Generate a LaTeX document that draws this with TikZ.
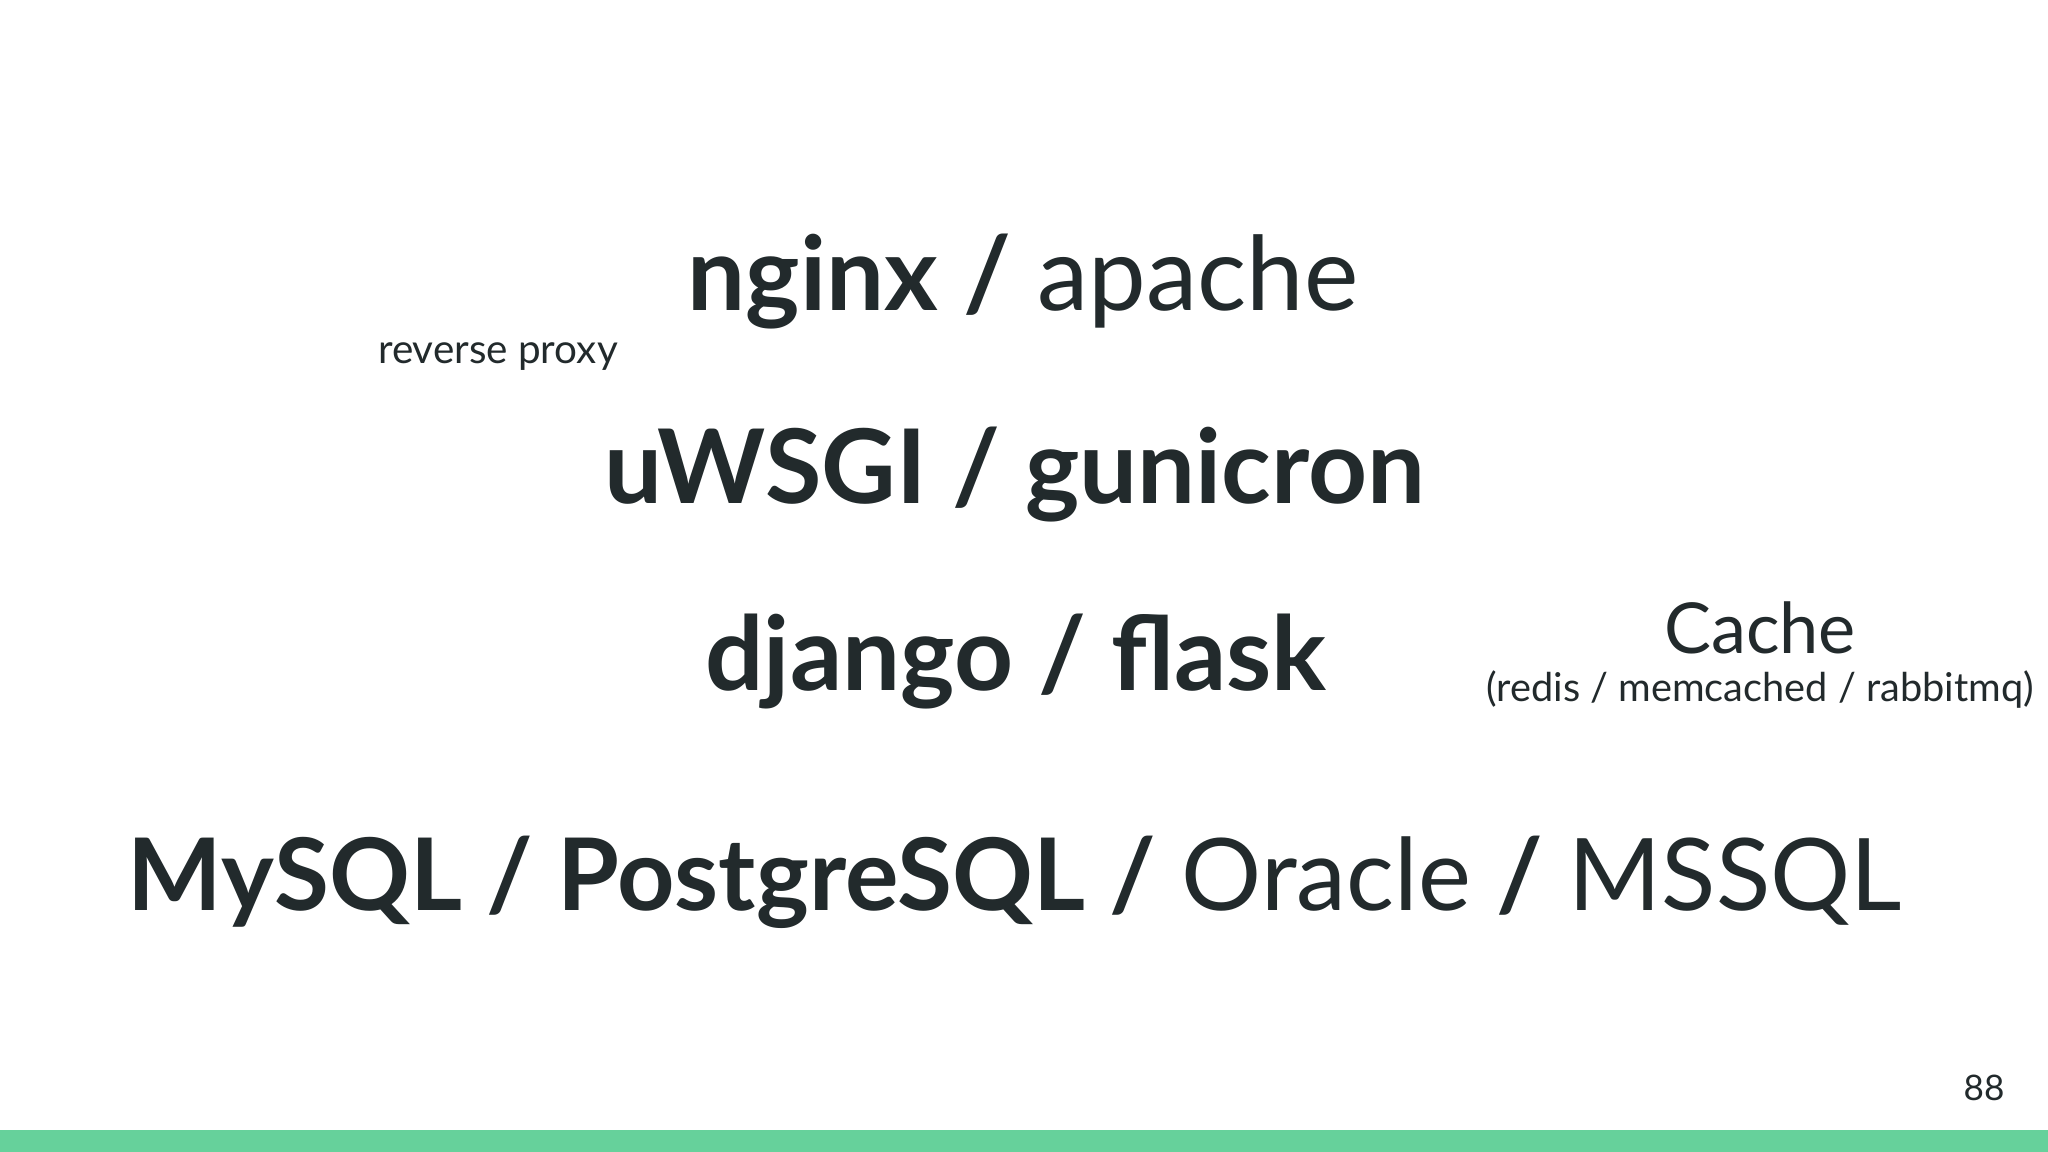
\documentclass[tikz,border=0pt]{standalone}
\usepackage{fontspec}
\setmainfont{Lato}
\definecolor{ink}{HTML}{222A2C}
\definecolor{bar}{HTML}{66D19B}
\begin{document}
\begin{tikzpicture}[every node/.style={text=ink,inner sep=0pt,anchor=center},
  big/.style={font=\fontsize{29.3}{32}\selectfont},
  huge/.style={font=\fontsize{28.5}{32}\selectfont}]
\useasboundingbox (0,0) rectangle (20.48,11.52);
\fill[white] (0,0) rectangle (20.48,11.52);
\fill[bar] (0,0) rectangle (20.48,0.22);
\node[big] (web) at (10.23,8.70) {\textbf{nginx /} apache};
\node[font=\fontsize{11.5}{14}\selectfont] (rp) at (4.98,7.95) {reverse proxy};
\node[big] (wsgi) at (10.15,6.77) {\textbf{uWSGI / gunicron}};
\node[big] (fw) at (10.16,4.90) {\textbf{django / flask}};
\node[font=\fontsize{20}{24}\selectfont] (cache) at (17.60,5.24) {Cache};
\node[font=\fontsize{11.3}{14}\selectfont] (cachesub) at (17.60,4.62) {(redis / memcached / rabbitmq)};
\node[huge] (db) at (10.15,2.70) {\textbf{MySQL / PostgreSQL /} Oracle \textbf{/} MSSQL};
\node[font=\fontsize{10}{12}\selectfont] (pg) at (19.84,0.64) {88};
\end{tikzpicture}
\end{document}
